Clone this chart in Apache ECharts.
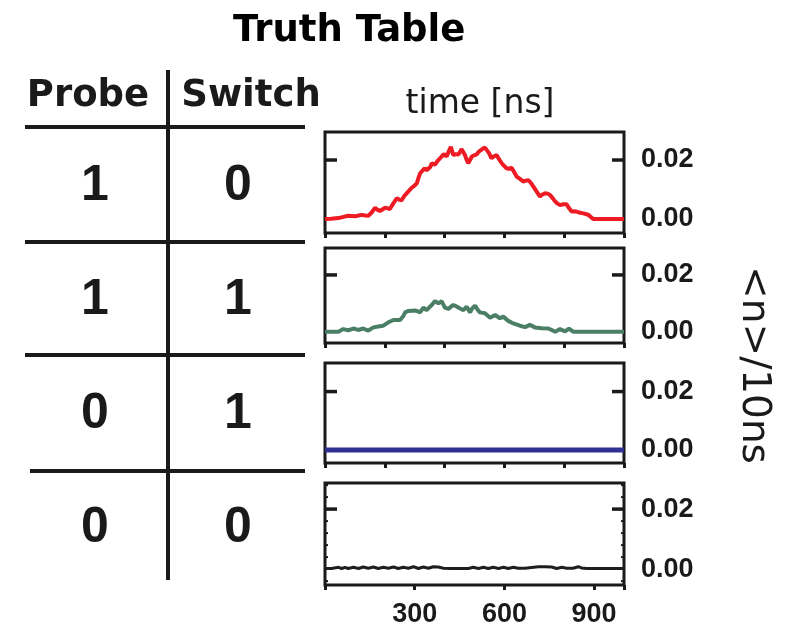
<!DOCTYPE html>
<html><head><meta charset="utf-8">
<script src="https://cdn.jsdelivr.net/npm/echarts@6/dist/echarts.min.js"></script>
<style>html,body{margin:0;padding:0;background:#fff}#c{width:786px;height:639px}</style>
</head><body><div id="c"></div>
<script>
// ---- data ----
const titleText = 'Truth Table';
const headers = ['Probe', 'Switch'];
const probeCol = ['1', '1', '0', '0'];
const switchCol = ['0', '1', '1', '0'];
const xName = 'time [ns]';
const yName = '<n>/10ns';
const yTickValues = [0, 0.02];
const yMajorTick = [0.02];
const yMinorTicks = [-0.004, 0.004, 0.008, 0.012, 0.016, 0.024, 0.028];
const xTickLabelsBottom = [300, 600, 900];

const redT = [0,20,45,65,78,90,100,112,123,135,145,156,167,176,184,193,201,210,217,228,240,248,256,265,273,282,290,298,307,313,318,326,334,340,346,352,357,363,368,376,385,392,399,407,414,421,429,437,446,452,457,463,468,474,479,485,491,499,507,514,520,527,535,541,548,557,566,574,582,591,599,607,615,624,632,641,652,663,672,680,689,697,708,719,727,736,745,753,762,770,778,786,797,808,816,825,834,842,853,864,872,881,889,897,950,1000];
const redV = [0,0.0001,0.0003,0.0008,0.0011,0.0010,0.0009,0.0012,0.0014,0.0012,0.0011,0.0022,0.0038,0.0031,0.0027,0.0033,0.0038,0.0036,0.0034,0.0052,0.0070,0.0066,0.0063,0.0078,0.0087,0.0097,0.0106,0.0112,0.0121,0.0140,0.0155,0.0164,0.0172,0.0165,0.0161,0.0176,0.0189,0.0186,0.0184,0.0196,0.0206,0.0214,0.0220,0.0212,0.0230,0.0245,0.0217,0.0220,0.0219,0.0228,0.0237,0.0226,0.0217,0.0200,0.0189,0.0200,0.0212,0.0216,0.0219,0.0228,0.0232,0.0238,0.0242,0.0236,0.0224,0.0206,0.0213,0.0217,0.0203,0.0189,0.0180,0.0172,0.0170,0.0174,0.0160,0.0144,0.0136,0.0127,0.0130,0.0132,0.0122,0.0110,0.0093,0.0076,0.0083,0.0087,0.0086,0.0081,0.0070,0.0059,0.0052,0.0047,0.0050,0.0050,0.0037,0.0025,0.0026,0.0025,0.0021,0.0019,0.0017,0.0014,0.0007,0,0,0];

const greenT = [0,45,61,78,95,111,128,145,162,178,195,212,229,251,262,268,279,290,301,310,318,329,340,349,357,368,379,390,401,413,421,429,438,446,455,463,474,485,491,496,502,510,518,535,552,569,585,596,613,630,652,669,685,702,725,747,770,786,803,816,830,1000];
const greenV = [0,0,0.0009,0.0005,0.0011,0.0006,0.0011,0.0004,0.0015,0.0018,0.0021,0.0033,0.0041,0.0041,0.0055,0.0068,0.0073,0.0074,0.0075,0.0072,0.0068,0.0085,0.0076,0.0086,0.0094,0.0108,0.0100,0.0108,0.0085,0.0080,0.0088,0.0094,0.0090,0.0085,0.0080,0.0076,0.0088,0.0068,0.0080,0.0085,0.0092,0.0078,0.0068,0.0065,0.0049,0.0059,0.0047,0.0053,0.0038,0.0029,0.0021,0.0016,0.0024,0.0015,0.0012,0.0011,0,0.0009,0.0001,0.0011,0,0];

const blueT = [0, 1000];
const blueV = [0, 0];

const blackT = [0,22,45,56,67,78,95,112,128,145,162,178,195,212,229,245,262,279,296,312,329,346,362,379,396,420,450,480,496,513,530,546,563,580,597,613,630,646,669,713,736,758,775,792,808,830,847,858,875,1000];
const blackV = [0.0002,0.0002,0.0006,0.0002,0.0006,0.0002,0.0006,0.0002,0.0007,0.0003,0.0007,0.0002,0.0006,0.0003,0.0007,0.0002,0.0006,0.0003,0.0008,0.0002,0.0007,0.0003,0.0008,0.0007,0.0003,0.0002,0.0002,0.0002,0.0006,0.0002,0.0006,0.0002,0.0006,0.0002,0.0006,0.0002,0.0006,0.0003,0.0003,0.0008,0.0008,0.0007,0.0002,0.0006,0.0003,0.0003,0.0008,0.0004,0.0002,0.0002];

const seriesList = [
  {t: redT, v: redV, color: '#ed1c24', width: 4},
  {t: greenT, v: greenV, color: '#4b7f65', width: 4},
  {t: blueT, v: blueV, color: '#2e3192', width: 5},
  {t: blackT, v: blackV, color: '#1e1e1e', width: 3}
];

// ---- layout ----
const panelTop = [132, 248, 363, 483];
const panelH = [101, 95, 100, 102];
const yMin = [-0.00475, -0.004, -0.0045, -0.0053];
const yMax = [0.0295, 0.0295, 0.0298, 0.0287];
const frameColor = '#1a1a1a';
const labelFont = {fontFamily: 'Liberation Sans', fontWeight: 'bold', fontSize: 27, color: '#1a1a1a'};

const grids = [], xAxes = [], yAxes = [], series = [];
for (let i = 0; i < 4; i++) {
  const last = i === 3;
  grids.push({left: 325, width: 299, top: panelTop[i], height: panelH[i], show: true,
    borderColor: frameColor, borderWidth: 3, backgroundColor: 'transparent'});
  xAxes.push({type: 'value', gridIndex: i, position: 'bottom', min: 0, max: 1000, interval: last ? 300 : 200,
    axisLine: {show: false, onZero: false}, splitLine: {show: false},
    axisTick: {show: true, inside: false, length: 5, lineStyle: {color: frameColor, width: 3}},
    axisLabel: {show: last, margin: 16, ...labelFont, fontSize: 27,
      formatter: v => (xTickLabelsBottom.indexOf(v) >= 0 ? String(v) : '')}});
  yAxes.push({type: 'value', gridIndex: i, position: 'right', min: yMin[i], max: yMax[i],
    splitLine: {show: false}, axisLine: {show: false, onZero: false}, axisTick: {show: false},
    axisLabel: {show: true, margin: 17, customValues: yTickValues, ...labelFont, formatter: v => v.toFixed(2)}});
  const s = seriesList[i];
  series.push({type: 'line', xAxisIndex: i, yAxisIndex: i, showSymbol: false, symbol: 'none',
    data: s.t.map((t, k) => [t, s.v[k]]), lineStyle: {color: s.color, width: s.width}, silent: true, animation: false, z: 3});
}

const chart = echarts.init(document.getElementById('c'), null, {renderer: 'canvas'});
chart.setOption({
  animation: false,
  backgroundColor: '#ffffff',
  title: {text: titleText, left: 228, top: 8, textStyle: {fontFamily: 'DejaVu Sans', fontWeight: 'bold', fontSize: 37, color: '#000'}},
  grid: grids, xAxis: xAxes, yAxis: yAxes, series: series
});

// ---- inward y ticks on both frame sides, placed through the axes' own scales ----
const graphic = [];
for (let i = 0; i < 4; i++) {
  const xl = chart.convertToPixel({xAxisIndex: i}, 0);
  const xr = chart.convertToPixel({xAxisIndex: i}, 1000);
  const addTicks = (vals, len, w) => vals.forEach(v => {
    const y = chart.convertToPixel({yAxisIndex: i}, v);
    graphic.push({type: 'line', shape: {x1: xl, y1: y, x2: xl + len, y2: y}, style: {stroke: frameColor, lineWidth: w}});
    graphic.push({type: 'line', shape: {x1: xr - len, y1: y, x2: xr, y2: y}, style: {stroke: frameColor, lineWidth: w}});
  });
  addTicks(yMajorTick, 12, 3.5);
  if (i === 3) addTicks(yMinorTicks, 3, 2);
}

// ---- table and free texts ----
const tableStroke = {stroke: '#1a1a1a', lineWidth: 4};
graphic.push({type: 'line', shape: {x1: 168, y1: 70, x2: 168, y2: 580}, style: tableStroke});
[[25, 127], [25, 242], [25, 355], [30, 471]].forEach(([x, y]) =>
  graphic.push({type: 'line', shape: {x1: x, y1: y, x2: 305, y2: y}, style: tableStroke}));
const headX = [88, 251];
headers.forEach((h, k) => graphic.push({type: 'text', x: headX[k], y: 96,
  style: {text: h, align: 'center', verticalAlign: 'middle', font: 'bold 37px "DejaVu Sans"', fill: '#1a1a1a'}}));
const rowY = [186, 300, 414, 528];
probeCol.forEach((p, r) => {
  graphic.push({type: 'text', x: 95, y: rowY[r], style: {text: p, align: 'center', verticalAlign: 'middle', font: 'bold 50px "Liberation Sans"', fill: '#1a1a1a'}});
  graphic.push({type: 'text', x: 238, y: rowY[r], style: {text: switchCol[r], align: 'center', verticalAlign: 'middle', font: 'bold 50px "Liberation Sans"', fill: '#1a1a1a'}});
});
graphic.push({type: 'text', x: 480, y: 104, style: {text: xName, align: 'center', verticalAlign: 'middle', font: '33px "DejaVu Sans"', fill: '#1a1a1a'}});
graphic.push({type: 'text', x: 753, y: 365, rotation: -Math.PI / 2, style: {text: yName, align: 'center', verticalAlign: 'middle', font: '39px "DejaVu Sans"', fill: '#1a1a1a'}});

chart.setOption({graphic: graphic});
</script></body></html>
